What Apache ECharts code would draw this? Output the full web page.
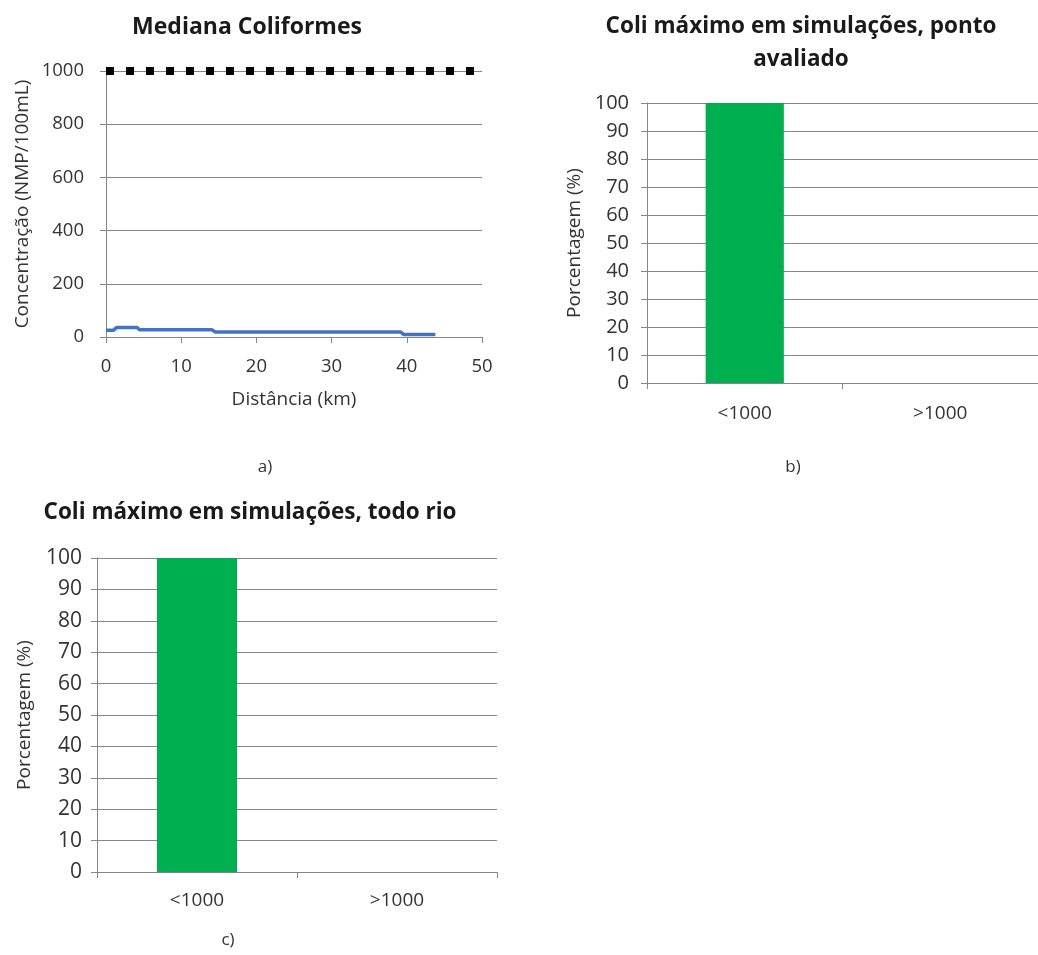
<!DOCTYPE html>
<html><head><meta charset="utf-8">
<script src="https://cdn.jsdelivr.net/npm/echarts@6/dist/echarts.min.js"></script>
<style>html,body{margin:0;padding:0;background:#fff}#c{width:1038px;height:955px}</style>
</head><body><div id="c"></div>
<script>
// Chart a: median coliforms along the river
const distKm = [0, 1.0, 1.4, 4.1, 4.5, 14.1, 14.5, 39.2, 39.6, 43.8];
const medianaColi = [25, 25, 36, 36, 27, 27, 19, 19, 9, 9];
const limiteKm = [0, 50];
const limiteValor = [1000, 1000];
const yTicksA = [0, 200, 400, 600, 800, 1000];
const xTicksA = [0, 10, 20, 30, 40, 50];
// Charts b and c
const classes = ['<1000', '>1000'];
const pontoAvaliado = [100, 0];
const todoRio = [100, 0];

const FONT = '"Open Sans", Lato, sans-serif';
const GRAY = '#868686';
const TXT = '#333333';

function valAxisCommon(fs, margin) {
  return {
    axisLine: {show: true, lineStyle: {color: GRAY, width: 1}},
    axisTick: {show: true, length: 6, lineStyle: {color: GRAY}},
    splitLine: {show: true, lineStyle: {color: GRAY, width: 1}},
    axisLabel: {color: TXT, fontSize: fs, fontFamily: FONT, margin: margin, formatter: v => String(v)},
    nameTextStyle: {color: TXT, fontSize: 19, fontFamily: FONT}
  };
}

const chart = echarts.init(document.getElementById('c'), null, {renderer: 'canvas'});
const option = {
  animation: false,
  backgroundColor: '#fff',
  grid: [
    {left: 106, top: 71, width: 376, height: 266},
    {left: 647, top: 103, width: 400, height: 280},
    {left: 97, top: 558, width: 400, height: 314}
  ],
  xAxis: [
    Object.assign(valAxisCommon(18.5, 20), {
      gridIndex: 0, type: 'value', min: xTicksA[0], max: xTicksA[xTicksA.length - 1], interval: 10,
      splitLine: {show: false},
      name: 'Distância (km)', nameLocation: 'middle', nameGap: 53
    }),
    {
      gridIndex: 1, type: 'category', data: classes,
      axisLine: {show: true, lineStyle: {color: GRAY}},
      axisTick: {show: true, length: 6, lineStyle: {color: GRAY}},
      axisLabel: {color: TXT, fontSize: 19, fontFamily: FONT, margin: 21}
    },
    {
      gridIndex: 2, type: 'category', data: classes,
      axisLine: {show: true, lineStyle: {color: GRAY}},
      axisTick: {show: true, length: 6, lineStyle: {color: GRAY}},
      axisLabel: {color: TXT, fontSize: 19, fontFamily: FONT, margin: 19}
    }
  ],
  yAxis: [
    Object.assign(valAxisCommon(18.5, 22), {
      gridIndex: 0, type: 'value', min: yTicksA[0], max: yTicksA[yTicksA.length - 1], interval: 200,
      name: 'Concentração (NMP/100mL)', nameLocation: 'middle', nameGap: 74
    }),
    Object.assign(valAxisCommon(20, 18), {
      gridIndex: 1, type: 'value', min: 0, max: 100, interval: 10,
      name: 'Porcentagem (%)', nameLocation: 'middle', nameGap: 63
    }),
    Object.assign(valAxisCommon(21, 15), {
      gridIndex: 2, type: 'value', min: 0, max: 100, interval: 10,
      name: 'Porcentagem (%)', nameLocation: 'middle', nameGap: 63
    })
  ],
  series: [
    {
      type: 'line', xAxisIndex: 0, yAxisIndex: 0, symbol: 'none',
      data: limiteKm.map((x, i) => [x, limiteValor[i]]),
      lineStyle: {color: '#000', width: 8, type: [8, 12], cap: 'butt'}, z: 5
    },
    {
      type: 'line', xAxisIndex: 0, yAxisIndex: 0, symbol: 'none',
      data: distKm.map((x, i) => [x, medianaColi[i]]),
      lineStyle: {color: '#4472C4', width: 3.5}, z: 4
    },
    {
      type: 'bar', xAxisIndex: 1, yAxisIndex: 1, data: pontoAvaliado,
      barWidth: '40%', itemStyle: {color: '#00B050'}
    },
    {
      type: 'bar', xAxisIndex: 2, yAxisIndex: 2, data: todoRio,
      barWidth: '40%', itemStyle: {color: '#00B050'}
    }
  ],
  graphic: [
    {type: 'text', x: 247, y: 27, style: {text: 'Mediana Coliformes', fill: '#1a1a1a', font: 'bold 23px ' + FONT, align: 'center', verticalAlign: 'middle'}},
    {type: 'text', x: 801, y: 43, style: {text: 'Coli máximo em simulações, ponto\navaliado', fill: '#1a1a1a', font: 'bold 22.5px ' + FONT, align: 'center', verticalAlign: 'middle', lineHeight: 33}},
    {type: 'text', x: 250, y: 513, style: {text: 'Coli máximo em simulações, todo rio', fill: '#1a1a1a', font: 'bold 22.5px ' + FONT, align: 'center', verticalAlign: 'middle'}},
    {type: 'text', x: 265, y: 467, style: {text: 'a)', fill: TXT, font: '17px ' + FONT, align: 'center', verticalAlign: 'middle'}},
    {type: 'text', x: 793, y: 467, style: {text: 'b)', fill: TXT, font: '17px ' + FONT, align: 'center', verticalAlign: 'middle'}},
    {type: 'text', x: 228, y: 940, style: {text: 'c)', fill: TXT, font: '17px ' + FONT, align: 'center', verticalAlign: 'middle'}}
  ]
};
chart.setOption(option);
</script></body></html>
